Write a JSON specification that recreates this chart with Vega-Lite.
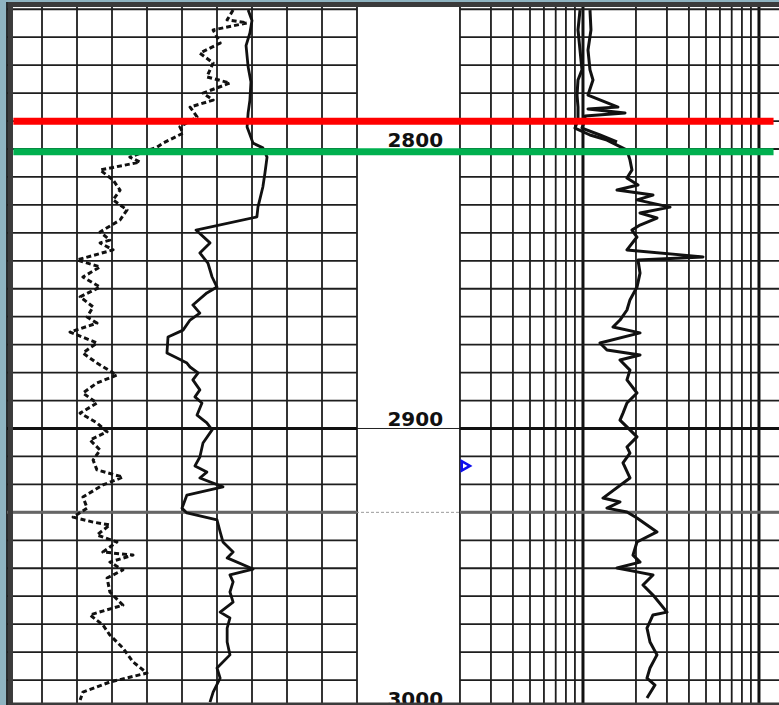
{
  "$schema": "https://vega.github.io/schema/vega-lite/v6.json",
  "width": 771,
  "height": 703,
  "autosize": "none",
  "padding": {"left": 8, "top": 2, "right": 0, "bottom": 0},
  "background": "#8fb4c1",
  "config": {"view": {"stroke": null, "fill": "white"}},
  "datasets": {
    "vL": [{"v": 0}, {"v": 10}, {"v": 20}, {"v": 30}, {"v": 40}, {"v": 50}, {"v": 60}, {"v": 70}, {"v": 80}, {"v": 90}, {"v": 100}],
    "vR": [{"r": 2}, {"r": 3}, {"r": 4}, {"r": 5}, {"r": 6}, {"r": 7}, {"r": 8}, {"r": 9}, {"r": 10}, {"r": 20}, {"r": 30}, {"r": 40}, {"r": 50}, {"r": 60}, {"r": 70}, {"r": 80}, {"r": 90}, {"r": 100}],
    "depths": [{"depth": 2750}, {"depth": 2760}, {"depth": 2770}, {"depth": 2780}, {"depth": 2790}, {"depth": 2800}, {"depth": 2810}, {"depth": 2820}, {"depth": 2830}, {"depth": 2840}, {"depth": 2850}, {"depth": 2860}, {"depth": 2870}, {"depth": 2880}, {"depth": 2890}, {"depth": 2900}, {"depth": 2910}, {"depth": 2920}, {"depth": 2930}, {"depth": 2940}, {"depth": 2950}, {"depth": 2960}, {"depth": 2970}, {"depth": 2980}, {"depth": 2990}],
    "labels": [{"depth": 2800, "label": "2800"}, {"depth": 2900, "label": "2900"}, {"depth": 3000, "label": "3000"}],
    "tops": [{"top": "A", "depth": 2790.1}, {"top": "B", "depth": 2801.0}],
    "marker": [{"depth": 2913.4, "r": 2.16}],
    "frameV": [{"side": "left", "r": 0.005587}],
    "frameH": [{"side": "top", "depth": 2748.3}, {"side": "bottom", "depth": 2998.93}],
    "gr": [
      {"depth": 2750.3, "gr": 68.9}, {"depth": 2754.0, "gr": 70.0}, {"depth": 2758.5, "gr": 69.4}, {"depth": 2763.0, "gr": 68.3}, {"depth": 2770.7, "gr": 68.9}, {"depth": 2776.0, "gr": 69.7}, {"depth": 2782.5, "gr": 69.4}, {"depth": 2787.0, "gr": 68.9}, {"depth": 2792.1, "gr": 68.6}, {"depth": 2797.9, "gr": 70.3}, {"depth": 2799.6, "gr": 73.1}, {"depth": 2802.9, "gr": 74.3}, {"depth": 2808.6, "gr": 73.7}, {"depth": 2813.6, "gr": 73.1}, {"depth": 2820.8, "gr": 71.7}, {"depth": 2824.3, "gr": 71.4}, {"depth": 2829.0, "gr": 54.0}, {"depth": 2833.6, "gr": 58.0}, {"depth": 2837.2, "gr": 55.1}, {"depth": 2840.8, "gr": 57.4}, {"depth": 2845.8, "gr": 58.6}, {"depth": 2849.4, "gr": 60.0}, {"depth": 2851.5, "gr": 57.1}, {"depth": 2855.8, "gr": 53.1}, {"depth": 2858.7, "gr": 55.1}, {"depth": 2861.2, "gr": 52.3}, {"depth": 2864.8, "gr": 50.3}, {"depth": 2867.3, "gr": 46.0}, {"depth": 2873.0, "gr": 45.7}, {"depth": 2874.8, "gr": 48.6}, {"depth": 2876.6, "gr": 51.4}, {"depth": 2878.0, "gr": 52.3}, {"depth": 2880.1, "gr": 54.6}, {"depth": 2882.6, "gr": 53.1}, {"depth": 2886.2, "gr": 55.1}, {"depth": 2888.7, "gr": 53.7}, {"depth": 2890.9, "gr": 55.7}, {"depth": 2895.2, "gr": 54.3}, {"depth": 2898.0, "gr": 57.1}, {"depth": 2900.5, "gr": 58.6}, {"depth": 2905.2, "gr": 56.0}, {"depth": 2910.2, "gr": 55.1}, {"depth": 2913.4, "gr": 53.7}, {"depth": 2915.6, "gr": 57.1}, {"depth": 2917.7, "gr": 55.1}, {"depth": 2920.9, "gr": 61.7}, {"depth": 2923.8, "gr": 51.4}, {"depth": 2928.5, "gr": 50.0}, {"depth": 2930.2, "gr": 51.4}, {"depth": 2932.7, "gr": 60.0}, {"depth": 2937.0, "gr": 60.9}, {"depth": 2940.6, "gr": 61.7}, {"depth": 2944.2, "gr": 64.6}, {"depth": 2946.3, "gr": 62.9}, {"depth": 2950.3, "gr": 70.3}, {"depth": 2952.4, "gr": 63.7}, {"depth": 2954.9, "gr": 64.6}, {"depth": 2958.5, "gr": 63.7}, {"depth": 2962.1, "gr": 64.6}, {"depth": 2965.7, "gr": 60.9}, {"depth": 2967.8, "gr": 63.7}, {"depth": 2971.4, "gr": 62.9}, {"depth": 2976.4, "gr": 62.9}, {"depth": 2981.0, "gr": 63.7}, {"depth": 2985.7, "gr": 60.0}, {"depth": 2989.3, "gr": 60.9}, {"depth": 2994.3, "gr": 58.9}, {"depth": 2997.9, "gr": 58.0}
    ],
    "sp": [
      {"depth": 2750.3, "sp": 64.6}, {"depth": 2753.8, "sp": 62.9}, {"depth": 2754.9, "sp": 68.6}, {"depth": 2757.4, "sp": 58.9}, {"depth": 2762.1, "sp": 60.9}, {"depth": 2765.7, "sp": 55.1}, {"depth": 2769.2, "sp": 58.9}, {"depth": 2774.2, "sp": 57.1}, {"depth": 2776.4, "sp": 63.7}, {"depth": 2780.0, "sp": 56.0}, {"depth": 2782.5, "sp": 58.9}, {"depth": 2785.0, "sp": 52.3}, {"depth": 2788.5, "sp": 54.3}, {"depth": 2792.1, "sp": 49.4}, {"depth": 2794.3, "sp": 50.3}, {"depth": 2797.9, "sp": 44.6}, {"depth": 2799.3, "sp": 42.9}, {"depth": 2802.9, "sp": 35.1}, {"depth": 2804.7, "sp": 38.0}, {"depth": 2807.5, "sp": 26.6}, {"depth": 2811.1, "sp": 30.3}, {"depth": 2814.7, "sp": 32.3}, {"depth": 2818.2, "sp": 30.3}, {"depth": 2821.8, "sp": 34.3}, {"depth": 2825.4, "sp": 32.3}, {"depth": 2829.7, "sp": 26.6}, {"depth": 2832.6, "sp": 29.4}, {"depth": 2833.6, "sp": 26.6}, {"depth": 2836.1, "sp": 30.3}, {"depth": 2839.7, "sp": 20.0}, {"depth": 2842.2, "sp": 26.6}, {"depth": 2845.8, "sp": 21.7}, {"depth": 2849.4, "sp": 26.6}, {"depth": 2852.9, "sp": 20.9}, {"depth": 2856.5, "sp": 24.6}, {"depth": 2860.1, "sp": 22.9}, {"depth": 2862.3, "sp": 25.7}, {"depth": 2865.5, "sp": 18.0}, {"depth": 2869.4, "sp": 25.7}, {"depth": 2873.0, "sp": 21.7}, {"depth": 2876.6, "sp": 25.7}, {"depth": 2880.9, "sp": 31.4}, {"depth": 2883.7, "sp": 25.7}, {"depth": 2887.3, "sp": 21.7}, {"depth": 2890.9, "sp": 25.7}, {"depth": 2894.5, "sp": 20.9}, {"depth": 2898.0, "sp": 25.7}, {"depth": 2901.2, "sp": 28.6}, {"depth": 2904.1, "sp": 23.7}, {"depth": 2907.7, "sp": 26.6}, {"depth": 2911.3, "sp": 24.6}, {"depth": 2914.8, "sp": 25.7}, {"depth": 2917.4, "sp": 33.1}, {"depth": 2920.2, "sp": 27.4}, {"depth": 2924.5, "sp": 21.7}, {"depth": 2928.5, "sp": 22.9}, {"depth": 2931.7, "sp": 18.9}, {"depth": 2933.5, "sp": 24.6}, {"depth": 2934.5, "sp": 29.4}, {"depth": 2938.1, "sp": 25.7}, {"depth": 2940.6, "sp": 31.4}, {"depth": 2944.2, "sp": 27.4}, {"depth": 2945.3, "sp": 36.0}, {"depth": 2947.8, "sp": 29.4}, {"depth": 2950.6, "sp": 33.1}, {"depth": 2953.5, "sp": 28.6}, {"depth": 2958.5, "sp": 29.4}, {"depth": 2963.2, "sp": 33.1}, {"depth": 2966.7, "sp": 23.7}, {"depth": 2970.3, "sp": 27.4}, {"depth": 2973.9, "sp": 29.4}, {"depth": 2978.5, "sp": 33.1}, {"depth": 2983.5, "sp": 36.0}, {"depth": 2987.5, "sp": 40.0}, {"depth": 2990.7, "sp": 29.4}, {"depth": 2994.3, "sp": 21.7}, {"depth": 2997.1, "sp": 20.9}
    ],
    "res": [
      {"curve": "A", "depth": 2750.3, "res": 9.62}, {"curve": "A", "depth": 2757.4, "res": 9.37}, {"curve": "A", "depth": 2764.6, "res": 9.62}, {"curve": "A", "depth": 2771.7, "res": 9.87}, {"curve": "A", "depth": 2775.3, "res": 9.37}, {"curve": "A", "depth": 2780.7, "res": 9.25}, {"curve": "A", "depth": 2785.0, "res": 9.37}, {"curve": "A", "depth": 2789.6, "res": 9.37}, {"curve": "A", "depth": 2792.5, "res": 9.01}, {"curve": "A", "depth": 2795.0, "res": 10.96}, {"curve": "A", "depth": 2796.8, "res": 13.69}, {"curve": "A", "depth": 2798.6, "res": 15.61}, {"curve": "A", "depth": 2800.4, "res": 17.78}, {"curve": "A", "depth": 2803.9, "res": 18.49}, {"curve": "A", "depth": 2807.5, "res": 18.98}, {"curve": "A", "depth": 2810.4, "res": 17.78}, {"curve": "A", "depth": 2812.9, "res": 20.54}, {"curve": "A", "depth": 2814.7, "res": 15.61}, {"curve": "A", "depth": 2816.5, "res": 24.99}, {"curve": "A", "depth": 2818.2, "res": 20.27}, {"curve": "A", "depth": 2820.8, "res": 31.22}, {"curve": "A", "depth": 2822.9, "res": 21.09}, {"curve": "A", "depth": 2824.7, "res": 26.33}, {"curve": "A", "depth": 2827.2, "res": 21.09}, {"curve": "A", "depth": 2829.0, "res": 18.98}, {"curve": "A", "depth": 2831.5, "res": 20.27}, {"curve": "A", "depth": 2836.1, "res": 17.78}, {"curve": "A", "depth": 2838.6, "res": 48.07}, {"curve": "A", "depth": 2839.7, "res": 20.54}, {"curve": "A", "depth": 2844.4, "res": 21.09}, {"curve": "A", "depth": 2849.4, "res": 20.27}, {"curve": "A", "depth": 2854.0, "res": 18.49}, {"curve": "A", "depth": 2857.6, "res": 17.78}, {"curve": "A", "depth": 2861.2, "res": 16.23}, {"curve": "A", "depth": 2863.7, "res": 14.81}, {"curve": "A", "depth": 2865.8, "res": 21.09}, {"curve": "A", "depth": 2869.4, "res": 12.49}, {"curve": "A", "depth": 2871.9, "res": 13.69}, {"curve": "A", "depth": 2873.7, "res": 21.09}, {"curve": "A", "depth": 2875.5, "res": 16.23}, {"curve": "A", "depth": 2879.1, "res": 18.49}, {"curve": "A", "depth": 2882.6, "res": 17.78}, {"curve": "A", "depth": 2887.3, "res": 20.27}, {"curve": "A", "depth": 2890.9, "res": 17.78}, {"curve": "A", "depth": 2894.5, "res": 16.88}, {"curve": "A", "depth": 2897.0, "res": 16.23}, {"curve": "A", "depth": 2900.5, "res": 18.49}, {"curve": "A", "depth": 2903.0, "res": 20.27}, {"curve": "A", "depth": 2906.6, "res": 17.78}, {"curve": "A", "depth": 2908.8, "res": 18.49}, {"curve": "A", "depth": 2912.3, "res": 16.88}, {"curve": "A", "depth": 2917.7, "res": 18.49}, {"curve": "A", "depth": 2924.9, "res": 12.99}, {"curve": "A", "depth": 2926.3, "res": 16.23}, {"curve": "A", "depth": 2928.5, "res": 13.69}, {"curve": "A", "depth": 2929.9, "res": 17.78}, {"curve": "A", "depth": 2932.0, "res": 20.27}, {"curve": "A", "depth": 2937.0, "res": 26.33}, {"curve": "A", "depth": 2940.6, "res": 20.27}, {"curve": "A", "depth": 2945.3, "res": 19.24}, {"curve": "A", "depth": 2947.8, "res": 21.09}, {"curve": "A", "depth": 2949.9, "res": 15.61}, {"curve": "A", "depth": 2951.3, "res": 20.27}, {"curve": "A", "depth": 2952.4, "res": 24.99}, {"curve": "A", "depth": 2956.0, "res": 21.93}, {"curve": "A", "depth": 2959.6, "res": 24.99}, {"curve": "A", "depth": 2965.7, "res": 30.02}, {"curve": "A", "depth": 2966.7, "res": 24.99}, {"curve": "A", "depth": 2971.4, "res": 23.10}, {"curve": "A", "depth": 2976.4, "res": 24.03}, {"curve": "A", "depth": 2981.0, "res": 26.33}, {"curve": "A", "depth": 2985.7, "res": 24.03}, {"curve": "A", "depth": 2989.3, "res": 23.10}, {"curve": "A", "depth": 2991.8, "res": 25.65}, {"curve": "A", "depth": 2996.4, "res": 23.10},
      {"curve": "B", "depth": 2750.3, "res": 10.96}, {"curve": "B", "depth": 2757.4, "res": 11.10}, {"curve": "B", "depth": 2764.6, "res": 10.68}, {"curve": "B", "depth": 2771.7, "res": 10.96}, {"curve": "B", "depth": 2775.3, "res": 11.40}, {"curve": "B", "depth": 2780.7, "res": 10.68}, {"curve": "B", "depth": 2785.0, "res": 15.81}, {"curve": "B", "depth": 2785.7, "res": 10.68}, {"curve": "B", "depth": 2787.1, "res": 17.33}, {"curve": "B", "depth": 2788.2, "res": 10.27}, {"curve": "B", "depth": 2789.6, "res": 10.27}, {"curve": "B", "depth": 2792.5, "res": 9.87}, {"curve": "B", "depth": 2795.0, "res": 12.49}, {"curve": "B", "depth": 2797.5, "res": 15.61}
    ]
  },
  "resolve": {"scale": {"x": "independent"}, "axis": {"x": "independent"}},
  "layer": [
    {
      "layer": [
        {
          "data": {"name": "vL"},
          "mark": {"type": "rule", "color": "#1e1e1e", "strokeWidth": 1.8},
          "encoding": {
            "x": {"field": "v", "type": "quantitative", "scale": {"domain": [0.2857, 220.571], "nice": false, "zero": false}, "axis": null}
          }
        },
        {
          "data": {"name": "depths"},
          "mark": {"type": "rule", "color": "#1e1e1e", "strokeWidth": 1.8},
          "encoding": {
            "y": {"field": "depth", "type": "quantitative", "scale": {"domain": [2747.41, 2998.93], "reverse": true, "nice": false, "zero": false}, "axis": null},
            "x": {"datum": 0, "type": "quantitative", "scale": {"domain": [0.2857, 220.571], "nice": false, "zero": false}, "axis": null},
            "x2": {"datum": 100}
          }
        },
        {
          "data": {"name": "depths"},
          "transform": [{"filter": "datum.depth == 2900"}],
          "mark": {"type": "rule", "color": "#222222", "strokeWidth": 1},
          "encoding": {
            "y": {"field": "depth", "type": "quantitative", "scale": {"domain": [2747.41, 2998.93], "reverse": true, "nice": false, "zero": false}, "axis": null}
          }
        },
        {
          "data": {"name": "depths"},
          "transform": [{"filter": "datum.depth == 2930"}],
          "mark": {"type": "rule", "color": "#9a9a9a", "strokeWidth": 1, "strokeDash": [3, 2]},
          "encoding": {
            "y": {"field": "depth", "type": "quantitative", "scale": {"domain": [2747.41, 2998.93], "reverse": true, "nice": false, "zero": false}, "axis": null}
          }
        },
        {
          "data": {"name": "depths"},
          "transform": [{"filter": "datum.depth == 2900"}],
          "mark": {"type": "rule", "color": "#111111", "strokeWidth": 3},
          "encoding": {
            "y": {"field": "depth", "type": "quantitative", "scale": {"domain": [2747.41, 2998.93], "reverse": true, "nice": false, "zero": false}, "axis": null},
            "x": {"datum": 0, "type": "quantitative", "scale": {"domain": [0.2857, 220.571], "nice": false, "zero": false}, "axis": null},
            "x2": {"datum": 100}
          }
        },
        {
          "data": {"name": "depths"},
          "transform": [{"filter": "datum.depth == 2930"}],
          "mark": {"type": "rule", "color": "#666666", "strokeWidth": 3},
          "encoding": {
            "y": {"field": "depth", "type": "quantitative", "scale": {"domain": [2747.41, 2998.93], "reverse": true, "nice": false, "zero": false}, "axis": null},
            "x": {"datum": 0, "type": "quantitative", "scale": {"domain": [0.2857, 220.571], "nice": false, "zero": false}, "axis": null},
            "x2": {"datum": 100}
          }
        },
        {
          "data": {"name": "sp"},
          "mark": {"type": "line", "color": "#111111", "strokeWidth": 3, "strokeDash": [5, 3], "strokeJoin": "round"},
          "encoding": {
            "y": {"field": "depth", "type": "quantitative", "scale": {"domain": [2747.41, 2998.93], "reverse": true, "nice": false, "zero": false}, "axis": null},
            "x": {"field": "sp", "type": "quantitative", "scale": {"domain": [0.2857, 220.571], "nice": false, "zero": false}, "axis": null},
            "order": {"field": "depth", "type": "quantitative"}
          }
        },
        {
          "data": {"name": "gr"},
          "mark": {"type": "line", "color": "#111111", "strokeWidth": 2.8, "strokeJoin": "round"},
          "encoding": {
            "y": {"field": "depth", "type": "quantitative", "scale": {"domain": [2747.41, 2998.93], "reverse": true, "nice": false, "zero": false}, "axis": null},
            "x": {"field": "gr", "type": "quantitative", "scale": {"domain": [0.2857, 220.571], "nice": false, "zero": false}, "axis": null},
            "order": {"field": "depth", "type": "quantitative"}
          }
        },
        {
          "data": {"name": "labels"},
          "mark": {"type": "text", "align": "right", "baseline": "alphabetic", "dy": -2, "font": "DejaVu Sans", "fontWeight": "bold", "fontSize": 20, "color": "#111111"},
          "encoding": {
            "y": {"field": "depth", "type": "quantitative", "scale": {"domain": [2747.41, 2998.93], "reverse": true, "nice": false, "zero": false}, "axis": null},
            "x": {"datum": 124.6, "type": "quantitative", "scale": {"domain": [0.2857, 220.571], "nice": false, "zero": false}, "axis": null},
            "text": {"field": "label", "type": "nominal"}
          }
        }
      ]
    },
    {
      "layer": [
        {
          "data": {"name": "vR"},
          "mark": {"type": "rule", "color": "#1e1e1e", "strokeWidth": 1.8},
          "encoding": {
            "x": {"field": "r", "type": "quantitative", "scale": {"type": "log", "domain": [0.005408, 129.95], "nice": false}, "axis": null}
          }
        },
        {
          "data": {"name": "vR"},
          "transform": [{"filter": "datum.r == 10 || datum.r == 100"}],
          "mark": {"type": "rule", "color": "#111111", "strokeWidth": 3},
          "encoding": {
            "x": {"field": "r", "type": "quantitative", "scale": {"type": "log", "domain": [0.005408, 129.95], "nice": false}, "axis": null}
          }
        },
        {
          "data": {"name": "depths"},
          "mark": {"type": "rule", "color": "#1e1e1e", "strokeWidth": 1.8},
          "encoding": {
            "y": {"field": "depth", "type": "quantitative", "scale": {"domain": [2747.41, 2998.93], "reverse": true, "nice": false, "zero": false}, "axis": null},
            "x": {"datum": 2, "type": "quantitative", "scale": {"type": "log", "domain": [0.005408, 129.95], "nice": false}, "axis": null},
            "x2": {"datum": 129.95}
          }
        },
        {
          "data": {"name": "depths"},
          "transform": [{"filter": "datum.depth == 2900"}],
          "mark": {"type": "rule", "color": "#111111", "strokeWidth": 3},
          "encoding": {
            "y": {"field": "depth", "type": "quantitative", "scale": {"domain": [2747.41, 2998.93], "reverse": true, "nice": false, "zero": false}, "axis": null},
            "x": {"datum": 2, "type": "quantitative", "scale": {"type": "log", "domain": [0.005408, 129.95], "nice": false}, "axis": null},
            "x2": {"datum": 129.95}
          }
        },
        {
          "data": {"name": "depths"},
          "transform": [{"filter": "datum.depth == 2930"}],
          "mark": {"type": "rule", "color": "#666666", "strokeWidth": 3},
          "encoding": {
            "y": {"field": "depth", "type": "quantitative", "scale": {"domain": [2747.41, 2998.93], "reverse": true, "nice": false, "zero": false}, "axis": null},
            "x": {"datum": 2, "type": "quantitative", "scale": {"type": "log", "domain": [0.005408, 129.95], "nice": false}, "axis": null},
            "x2": {"datum": 129.95}
          }
        },
        {
          "mark": {"type": "rule", "color": "#1010ee", "strokeWidth": 3},
          "encoding": {
            "x": {"datum": 2, "type": "quantitative", "scale": {"type": "log", "domain": [0.005408, 129.95], "nice": false}, "axis": null}
          }
        },
        {
          "data": {"name": "res"},
          "mark": {"type": "line", "color": "#111111", "strokeWidth": 3, "strokeJoin": "round"},
          "encoding": {
            "y": {"field": "depth", "type": "quantitative", "scale": {"domain": [2747.41, 2998.93], "reverse": true, "nice": false, "zero": false}, "axis": null},
            "x": {"field": "res", "type": "quantitative", "scale": {"type": "log", "domain": [0.005408, 129.95], "nice": false}, "axis": null},
            "detail": {"field": "curve", "type": "nominal"},
            "order": {"field": "depth", "type": "quantitative"}
          }
        },
        {
          "data": {"name": "marker"},
          "mark": {"type": "point", "shape": "triangle-right", "filled": false, "color": "#1010ee", "strokeWidth": 2.5, "size": 90, "opacity": 1},
          "encoding": {
            "y": {"field": "depth", "type": "quantitative", "scale": {"domain": [2747.41, 2998.93], "reverse": true, "nice": false, "zero": false}, "axis": null},
            "x": {"field": "r", "type": "quantitative", "scale": {"type": "log", "domain": [0.005408, 129.95], "nice": false}, "axis": null}
          }
        },
        {
          "data": {"name": "tops"},
          "mark": {"type": "rule", "strokeWidth": 7},
          "encoding": {
            "y": {"field": "depth", "type": "quantitative", "scale": {"domain": [2747.41, 2998.93], "reverse": true, "nice": false, "zero": false}, "axis": null},
            "x": {"datum": 0.0058, "type": "quantitative", "scale": {"type": "log", "domain": [0.005408, 129.95], "nice": false}, "axis": null},
            "x2": {"datum": 121},
            "color": {"field": "top", "type": "nominal", "scale": {"domain": ["A", "B"], "range": ["#ff0000", "#00b04f"]}, "legend": null}
          }
        },
        {
          "data": {"name": "frameV"},
          "mark": {"type": "rule", "stroke": "#3b3b3b", "strokeWidth": 5},
          "encoding": {
            "x": {"field": "r", "type": "quantitative", "scale": {"type": "log", "domain": [0.005408, 129.95], "nice": false}, "axis": null}
          }
        },
        {
          "data": {"name": "frameH"},
          "mark": {"type": "rule", "stroke": "#3b3b3b", "strokeWidth": 5},
          "encoding": {
            "y": {"field": "depth", "type": "quantitative", "scale": {"domain": [2747.41, 2998.93], "reverse": true, "nice": false, "zero": false}, "axis": null}
          }
        }
      ]
    }
  ]
}
